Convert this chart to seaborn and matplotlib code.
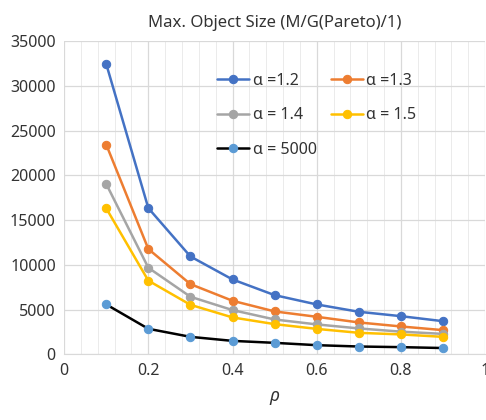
import pandas as pd
import numpy as np
import matplotlib
matplotlib.use("Agg")
import matplotlib.pyplot as plt
import seaborn as sns
from matplotlib.ticker import MultipleLocator

# Data
rho = [0.1, 0.2, 0.3, 0.4, 0.5, 0.6, 0.7, 0.8, 0.9]
alpha_12 = [32450, 16350, 10950, 8380, 6630, 5590, 4770, 4280, 3720]
alpha_13 = [23450, 11780, 7860, 6000, 4810, 4210, 3580, 3130, 2720]
alpha_14 = [19050, 9690, 6450, 4960, 3910, 3360, 2910, 2550, 2300]
alpha_15 = [16330, 8250, 5550, 4140, 3390, 2860, 2420, 2240, 1970]
alpha_5000 = [5590, 2870, 1970, 1520, 1300, 1040, 890, 820, 720]

labels = ["α =1.2", "α =1.3", "α = 1.4", "α = 1.5", "α = 5000"]
series = [alpha_12, alpha_13, alpha_14, alpha_15, alpha_5000]
line_colors = ["#4472C4", "#ED7D31", "#A5A5A5", "#FFC000", "#000000"]
marker_colors = ["#4472C4", "#ED7D31", "#A5A5A5", "#FFC000", "#5B9BD5"]

df = pd.concat(
    [pd.DataFrame({"rho": rho, "size": s, "alpha": lab}) for lab, s in zip(labels, series)],
    ignore_index=True,
)

sns.set_style("white")
plt.rcParams["font.family"] = ["Noto Sans", "DejaVu Sans"]

fig = plt.figure(figsize=(4.86, 4.2), dpi=100)
ax = fig.add_axes([0.132, 0.156, 0.866, 0.746])

for lab, lc, mc in zip(labels, line_colors, marker_colors):
    sns.lineplot(data=df[df["alpha"] == lab], x="rho", y="size", ax=ax,
                 color=lc, marker="o", markersize=6, markerfacecolor=mc,
                 markeredgecolor=mc, linewidth=1.8, label=lab)

ax.set_xlim(0, 1)
ax.set_ylim(0, 35000)
ax.xaxis.set_minor_locator(MultipleLocator(0.04))
ax.yaxis.set_major_locator(MultipleLocator(5000))
ax.set_xticks([0, 0.2, 0.4, 0.6, 0.8, 1.0])
ax.set_xticklabels(["0", "0.2", "0.4", "0.6", "0.8", "1"])
ax.grid(which="major", color="#D9D9D9", linewidth=0.9)
ax.grid(which="minor", axis="x", color="#EBEBEB", linewidth=0.7)
ax.tick_params(axis="both", which="both", length=0, labelsize=11.5, colors="#333333", pad=6)
for side in ["top", "right", "left"]:
    ax.spines[side].set_visible(False)
ax.spines["bottom"].set_color("#D9D9D9")

ax.set_xlabel("ρ", fontsize=13, style="italic", color="#333333", labelpad=6)
ax.set_ylabel("")
ax.set_title("Max. Object Size (M/G(Pareto)/1)", fontsize=12, color="#333333", pad=10)

handles, labs = ax.get_legend_handles_labels()
order = [0, 2, 4, 1, 3]
ax.legend([handles[i] for i in order], [labs[i] for i in order], ncol=2,
          frameon=False, fontsize=11.5, loc="upper left", bbox_to_anchor=(0.33, 0.945),
          handlelength=2.0, columnspacing=0.9, labelspacing=1.15, handletextpad=0.2,
          labelcolor="#333333")

fig.savefig("out.png", dpi=100)
